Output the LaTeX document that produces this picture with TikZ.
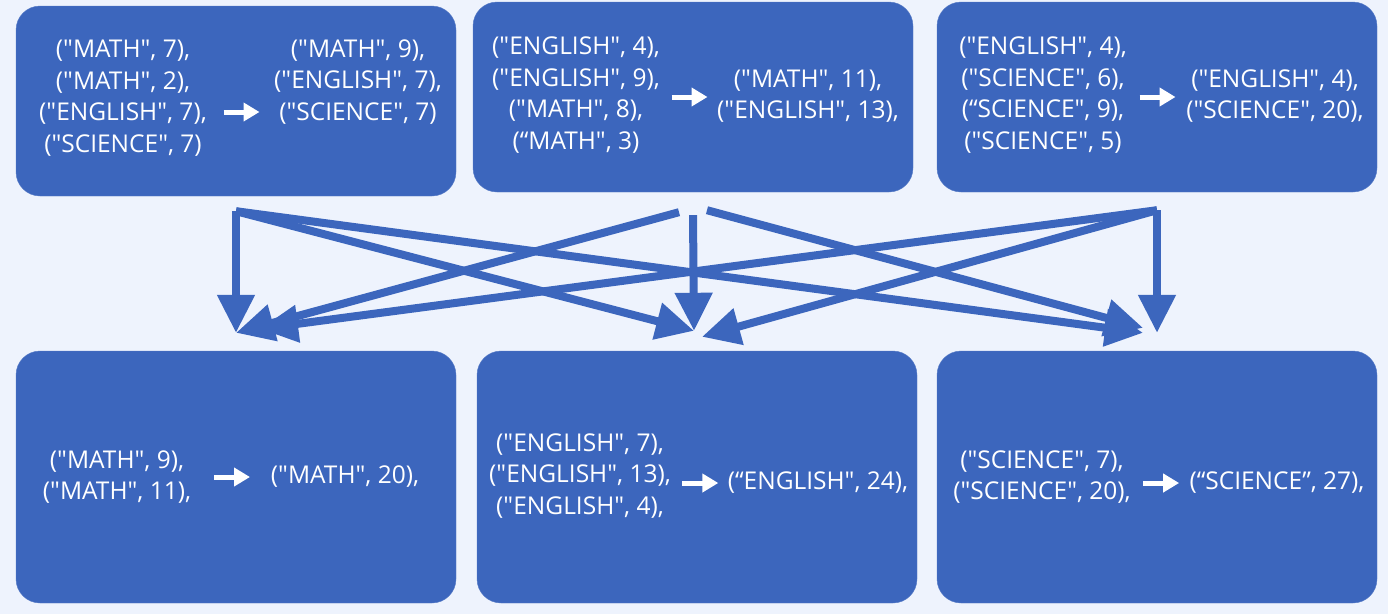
\documentclass[tikz,border=0pt]{standalone}
\usepackage{fontspec}
\setmainfont{Open Sans}[Ligatures=TeXOff]
\usetikzlibrary{arrows.meta, positioning}
\definecolor{boxblue}{HTML}{3C66BD}
\definecolor{pageblue}{HTML}{EEF3FD}
\tikzset{x=1pt, y=-1pt,
  stage/.style={draw=boxblue!85!white, fill=boxblue, rounded corners=24pt, minimum width=440pt, inner sep=0pt},
  pairs/.style={text=white, align=center, font=\fontsize{24.5}{31.5}\selectfont, inner sep=0pt},
  shuffle/.style={draw=boxblue, line width=8pt, -{Triangle[width=36pt,length=38pt]}},
  combine/.style={draw=white, line width=5pt, -{Triangle[width=18pt,length=16pt]}}}

\begin{document}
\begin{tikzpicture}
\useasboundingbox[fill=pageblue] (0,0) rectangle (1388,614);

% map side
\node[stage, minimum height=190pt] (m1) at (236,101) {};
\node[stage, minimum height=190pt] (m2) at (693,97) {};
\node[stage, minimum height=190pt] (m3) at (1157,97) {};
% reduce side
\node[stage, minimum height=252pt] (r1) at (236,477) {};
\node[stage, minimum height=252pt] (r2) at (697,477) {};
\node[stage, minimum height=252pt] (r3) at (1157,477) {};

\node[pairs] (in1) at (123,98) {("MATH", 7),\\("MATH", 2),\\("ENGLISH", 7),\\("SCIENCE", 7)};
\node[pairs] (out1) at (358,82) {("MATH", 9),\\("ENGLISH", 7),\\("SCIENCE", 7)};
\node[pairs] (in2) at (576,95) {("ENGLISH", 4),\\("ENGLISH", 9),\\("MATH", 8),\\(“MATH", 3)};
\node[pairs] (out2) at (808,96) {("MATH", 11),\\("ENGLISH", 13),};
\node[pairs] (in3) at (1043,95) {("ENGLISH", 4),\\("SCIENCE", 6),\\(“SCIENCE", 9),\\("SCIENCE", 5)};
\node[pairs] (out3) at (1275,96) {("ENGLISH", 4),\\("SCIENCE", 20),};
\node[pairs] (in4) at (117,477) {("MATH", 9),\\("MATH", 11),};
\node[pairs] (out4) at (345,477) {("MATH", 20),};
\node[pairs] (in5) at (580,476) {("ENGLISH", 7),\\("ENGLISH", 13),\\("ENGLISH", 4),};
\node[pairs] (out5) at (818,483) {(“ENGLISH", 24),};
\node[pairs] (in6) at (1042,477) {("SCIENCE", 7),\\("SCIENCE", 20),};
\node[pairs] (out6) at (1277,483) {(“SCIENCE”, 27),};

% small arrows inside the boxes
\path (in1.east |- 0,112) -- (out1.west |- 0,112) coordinate[pos=.5] (k1);
\path (in2.east |- 0,97) -- (out2.west |- 0,97) coordinate[pos=.5] (k2);
\path (in3.east |- 0,97) -- (out3.west |- 0,97) coordinate[pos=.5] (k3);
\path (in4.east |- 0,477) -- (out4.west |- 0,477) coordinate[pos=.5] (k4);
\path (in5.east |- 0,483) -- (out5.west |- 0,483) coordinate[pos=.5] (k5);
\path (in6.east |- 0,483) -- (out6.west |- 0,483) coordinate[pos=.5] (k6);
\foreach \k in {1,...,6}
  \draw[combine] ([xshift=-17pt]k\k) -- ([xshift=19pt]k\k);

\coordinate (s1) at ([yshift=-15pt]m1.south);
\coordinate (s2) at ([yshift=-23pt]m2.south);
\coordinate (s3) at ([yshift=-18pt]m3.south);
\coordinate (t1) at ([yshift=18pt]r1.north);
\coordinate (t2) at ([yshift=20pt,xshift=-3pt]r2.north);
\coordinate (t3) at ([yshift=18pt,xshift=-14pt]r3.north);

\draw[shuffle] (s1) -- (t1);
\draw[shuffle] (s1) -- (t2);
\draw[shuffle] (s1) -- (t3);
\draw[shuffle] ([xshift=-14pt,yshift=3pt]s2) -- (t1);
\draw[shuffle] (s2) -- (t2);
\draw[shuffle] ([xshift=14pt,yshift=5pt]s2) -- ([yshift=5pt]t3);
\draw[shuffle] (s3) -- ([xshift=24pt,yshift=4pt]t1);
\draw[shuffle] (s3) -- ([xshift=8pt,yshift=-6pt]t2);
\draw[shuffle] (s3) -- ([xshift=14pt]t3);
\end{tikzpicture}
\end{document}
